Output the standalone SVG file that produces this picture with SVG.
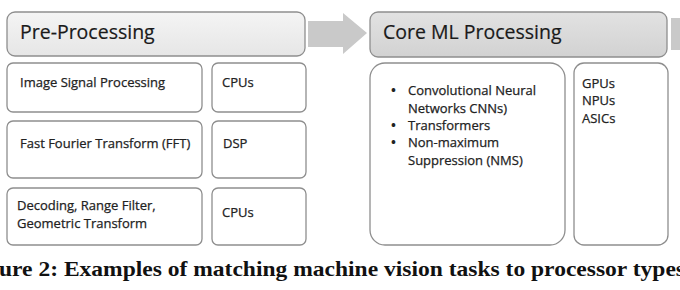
<svg xmlns="http://www.w3.org/2000/svg" width="680" height="290" viewBox="0 0 680 290">
<defs>
<linearGradient id="g1" x1="0" y1="0" x2="0" y2="1"><stop offset="0" stop-color="#f4f4f4"/><stop offset="1" stop-color="#e6e6e6"/></linearGradient>
<linearGradient id="g2" x1="0" y1="0" x2="0" y2="1"><stop offset="0" stop-color="#e2e2e2"/><stop offset="1" stop-color="#d2d2d2"/></linearGradient>
</defs>
<style>
.hdr{stroke:#8e8e8e;stroke-width:1.3}
.box{fill:#ffffff;stroke:#8e8e8e;stroke-width:1.3}
.ht{font-family:"Open Sans","Liberation Sans",sans-serif;font-size:19.5px;fill:#1a1a1a;stroke:#1a1a1a;stroke-width:0.2}
.t{font-family:"Open Sans","Liberation Sans",sans-serif;font-size:13px;fill:#222;stroke:#222;stroke-width:0.25}
.b{font-family:"Open Sans","Liberation Sans",sans-serif;font-size:13px;font-weight:bold;fill:#222}
.arr{fill:#c9c9c9}
.cap{font-family:"Liberation Serif",serif;font-weight:bold;font-size:21px;fill:#111}
</style>
<rect width="680" height="290" fill="#ffffff"/>
<g id="connectors">
<polygon class="arr" points="308,21 343,21 343,13 367,33 343,54 343,47 308,47"/>
<rect class="arr" x="671" y="18" width="9" height="32"/>
</g>
<g id="pre-processing">
<rect class="hdr" x="7" y="12" width="298" height="44" rx="8" fill="url(#g1)"/>
<text class="ht" x="20" y="39">Pre-Processing</text>
</g>
<g id="isp">
<rect class="box" x="7" y="63" width="195" height="49" rx="6"/>
<text class="t" x="20" y="87">Image Signal Processing</text>
</g>
<g id="cpus1">
<rect class="box" x="212" y="63" width="94" height="49" rx="6"/>
<text class="t" x="222" y="87">CPUs</text>
</g>
<g id="fft">
<rect class="box" x="7" y="121" width="195" height="57" rx="6"/>
<text class="t" x="20" y="148">Fast Fourier Transform (FFT)</text>
</g>
<g id="dsp">
<rect class="box" x="212" y="121" width="94" height="57" rx="6"/>
<text class="t" x="223" y="148">DSP</text>
</g>
<g id="decoding">
<rect class="box" x="7" y="188" width="195" height="57" rx="6"/>
<text class="t" x="17" y="210">Decoding, Range Filter,</text>
<text class="t" x="17" y="228">Geometric Transform</text>
</g>
<g id="cpus3">
<rect class="box" x="212" y="188" width="94" height="57" rx="6"/>
<text class="t" x="222" y="217">CPUs</text>
</g>
<g id="core-ml">
<rect class="hdr" x="370" y="12" width="297" height="45" rx="8" fill="url(#g2)"/>
<text class="ht" x="383" y="39">Core ML Processing</text>
</g>
<g id="ml-tasks">
<rect class="box" x="370" y="63" width="195" height="182" rx="15"/>
<text class="b" x="391" y="95">•</text>
<text class="t" x="408" y="95">Convolutional Neural</text>
<text class="t" x="408" y="113">Networks CNNs)</text>
<text class="b" x="391" y="130">•</text>
<text class="t" x="408" y="130">Transformers</text>
<text class="b" x="391" y="147">•</text>
<text class="t" x="408" y="147">Non-maximum</text>
<text class="t" x="408" y="165">Suppression (NMS)</text>
</g>
<g id="ml-processors">
<rect class="box" x="574" y="63" width="94" height="182" rx="10"/>
<text class="t" x="582" y="88">GPUs</text>
<text class="t" x="582" y="105">NPUs</text>
<text class="t" x="582" y="123">ASICs</text>
</g>
<text class="cap" x="-1" y="276" textLength="686" lengthAdjust="spacingAndGlyphs">ure 2: Examples of matching machine vision tasks to processor types</text>
</svg>
